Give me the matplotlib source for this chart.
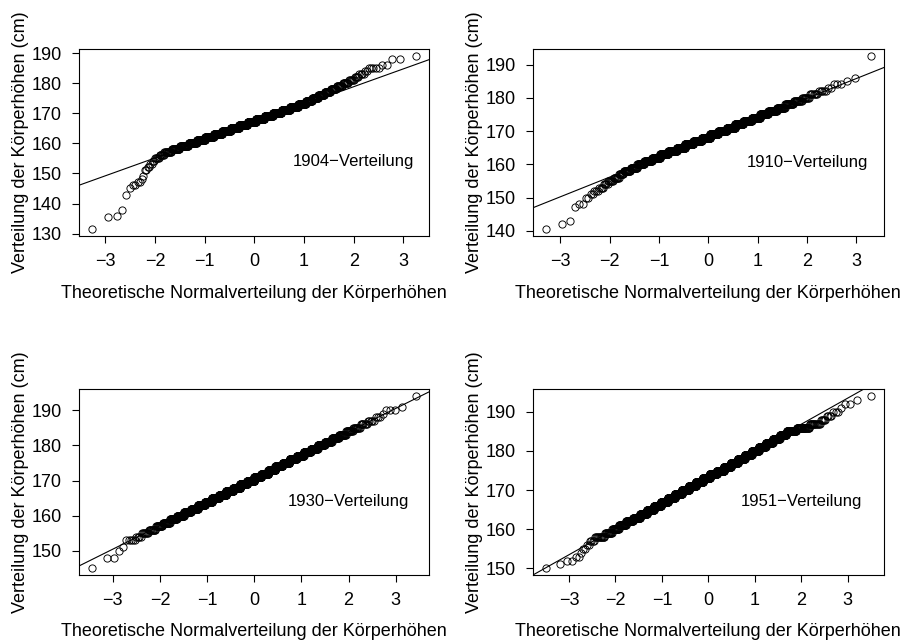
import matplotlib
matplotlib.use("Agg")
import matplotlib.pyplot as plt
import numpy as np
from statistics import NormalDist

# ---- data: body heights (cm) and number of persons per height ----
h1904 = [131.5, 135.5, 136, 138, 143, 145, 146, 147, 148, 149, 151, 152, 153, 154,
         155, 156, 157, 158, 159, 160, 161, 162, 163, 164, 165, 166, 167, 168, 169,
         170, 171, 172, 173, 174, 175, 176, 177, 178, 179, 180, 181, 182, 183, 184,
         185, 186, 188, 189]
c1904 = [1, 1, 1, 1, 1, 1, 2, 2, 1, 1, 2, 2, 2, 2,
         5, 6, 12, 17, 23, 28, 34, 41, 47, 52, 57, 59, 61, 61, 58,
         56, 50, 44, 34, 25, 21, 18, 15, 12, 10, 8, 6, 4, 4, 2,
         5, 2, 2, 1]

h1910 = [140.5, 142, 143, 147, 148, 150, 151, 152, 153, 154, 155, 156, 157, 158,
         159, 160, 161, 162, 163, 164, 165, 166, 167, 168, 169, 170, 171, 172, 173,
         174, 175, 176, 177, 178, 179, 180, 181, 182, 183, 184, 185, 186, 192.5]
c1910 = [1, 1, 1, 1, 2, 2, 2, 3, 4, 4, 6, 8, 8, 14,
         18, 22, 30, 37, 45, 52, 57, 63, 65, 68, 66, 65, 61, 55, 49,
         43, 35, 29, 23, 18, 13, 9, 7, 5, 2, 3, 1, 1, 1]

h1930 = [145, 148, 150, 151, 153, 154, 155, 156, 157, 158, 159, 160, 161, 162,
         163, 164, 165, 166, 167, 168, 169, 170, 171, 172, 173, 174, 175, 176, 177,
         178, 179, 180, 181, 182, 183, 184, 185, 186, 187, 188, 189, 190, 191, 194]
c1930 = [1, 2, 1, 1, 5, 4, 7, 10, 13, 18, 23, 30, 37, 45,
         54, 63, 73, 80, 89, 94, 99, 101, 101, 99, 94, 89, 80, 73, 63,
         54, 45, 37, 30, 23, 18, 13, 10, 7, 5, 3, 1, 3, 1, 1]

h1951 = [150, 151, 152, 153, 154, 155, 156, 157, 158, 159, 160, 161, 162, 163,
         164, 165, 166, 167, 168, 169, 170, 171, 172, 173, 174, 175, 176, 177, 178,
         179, 180, 181, 182, 183, 184, 185, 186, 187, 188, 189, 190, 191, 192, 193, 194]
c1951 = [1, 1, 2, 2, 1, 2, 2, 4, 12, 13, 17, 23, 30, 38,
         47, 58, 69, 80, 92, 102, 112, 118, 124, 125, 125, 122, 116, 108, 98,
         87, 76, 64, 54, 44, 34, 36, 30, 14, 5, 4, 3, 1, 2, 1, 1]

panel_labels = ["1904\u2212Verteilung", "1910\u2212Verteilung",
                "1930\u2212Verteilung", "1951\u2212Verteilung"]
yticks_list = [[130, 140, 150, 160, 170, 180, 190],
               [140, 150, 160, 170, 180, 190],
               [150, 160, 170, 180, 190],
               [150, 160, 170, 180, 190]]
text_y = [154, 160.6, 164, 167]
xticks = [-3, -2, -1, 0, 1, 2, 3]

xlabel = "Theoretische Normalverteilung der Körperhöhen"
ylabel = "Verteilung der Körperhöhen (cm)"

plt.rcParams['font.family'] = ['Liberation Sans', 'DejaVu Sans']
plt.rcParams['font.size'] = 13
plt.rcParams['axes.unicode_minus'] = True

W, H = 903, 641
fig = plt.figure(figsize=(W / 100, H / 100), dpi=100)

# axes boxes in pixels: left, top, right, bottom
boxes = [(79.3, 49.3, 429.3, 236.0),
         (533.0, 49.3, 883.7, 236.0),
         (79.3, 389.3, 429.3, 575.3),
         (533.0, 389.3, 883.7, 575.3)]
ylab_x = [20.7, 474.3, 20.7, 474.3]
xlab_y = [293, 293, 632, 632]

nd = NormalDist()
datasets = [(h1904, c1904), (h1910, c1910), (h1930, c1930), (h1951, c1951)]

for k, ((hs, cs), box) in enumerate(zip(datasets, boxes)):
    l, t, r, b = box
    ax = fig.add_axes([l / W, 1 - b / H, (r - l) / W, (b - t) / H])
    y = np.sort(np.repeat(np.array(hs, dtype=float), cs))
    n = len(y)
    p = (np.arange(1, n + 1) - 0.5) / n
    x = np.array([nd.inv_cdf(v) for v in p])
    ax.plot(x, y, linestyle='none', marker='o', mfc='none', mec='black',
            ms=5.2, mew=0.65)
    q1, q3 = np.quantile(y, [0.25, 0.75])
    z1, z3 = nd.inv_cdf(0.25), nd.inv_cdf(0.75)
    slope = (q3 - q1) / (z3 - z1)
    icpt = q1 - slope * z1
    xr = x.max() - x.min()
    yr = y.max() - y.min()
    ax.set_xlim(x.min() - 0.04 * xr, x.max() + 0.04 * xr)
    ax.set_ylim(y.min() - 0.04 * yr, y.max() + 0.04 * yr)
    ax.axline((0, icpt), slope=slope, color='black', lw=0.8)
    ax.set_xticks(xticks)
    ax.set_yticks(yticks_list[k])
    ax.tick_params(direction='out', length=5, width=0.8, labelsize=13,
                   top=False, right=False)
    ax.tick_params(axis='x', pad=7)
    ax.tick_params(axis='y', pad=7.5)
    for s in ax.spines.values():
        s.set_linewidth(0.8)
    ax.text(2, text_y[k], panel_labels[k], ha='center', va='center', fontsize=12)
    cx = (l + r) / 2 / W
    fig.text(cx, 1 - xlab_y[k] / H, xlabel, ha='center', va='center', fontsize=13)
    fig.text(ylab_x[k] / W, 1 - (t + b) / 2 / H, ylabel, rotation=90,
             ha='center', va='center', fontsize=13)

fig.savefig("out.png", dpi=100)
